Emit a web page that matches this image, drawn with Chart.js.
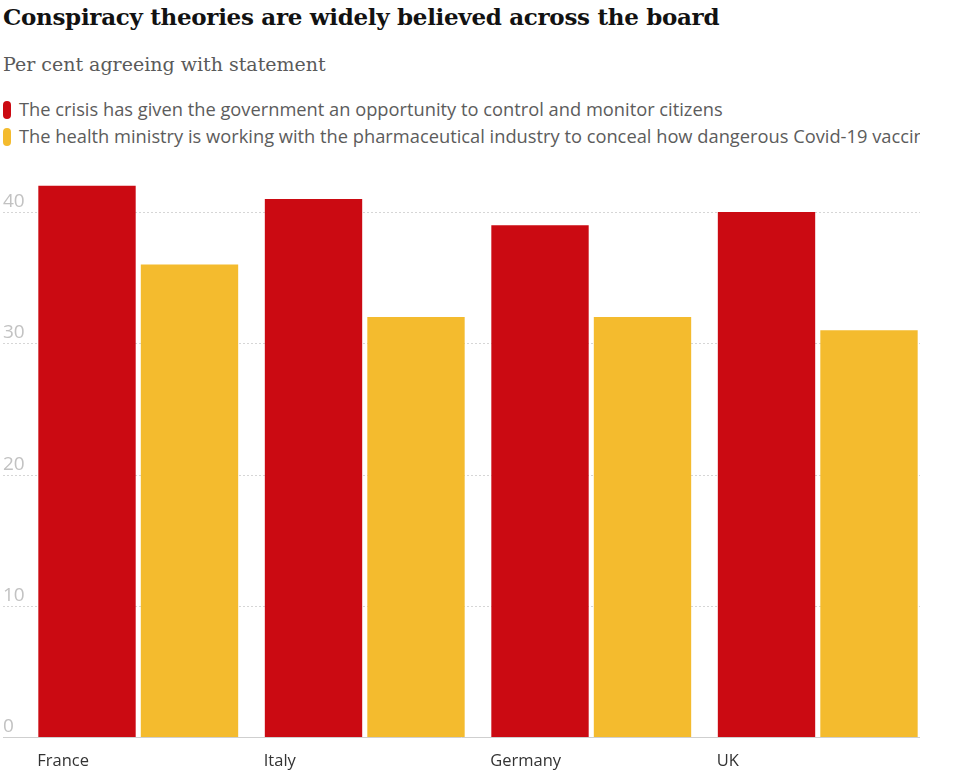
<!DOCTYPE html>
<html>
<head>
<meta charset="utf-8"/>
<script src="https://cdn.jsdelivr.net/npm/chart.js"></script>
<style>
  body { margin: 0; background: #fff; width: 960px; height: 784px; position: relative; overflow: hidden; }
  #title { position: absolute; left: 3px; top: 3px; font: bold 23px "DejaVu Serif", serif; color: #121212; white-space: nowrap; letter-spacing: -0.3px; }
  #subtitle { position: absolute; left: 3px; top: 53px; font: 19px "DejaVu Serif", serif; color: #5a5a5a; white-space: nowrap; }
  .leg { position: absolute; left: 3px; width: 917px; overflow: hidden; white-space: nowrap; font: 18.3px "Open Sans", sans-serif; color: #5c5c5c; }
  .leg i { display: inline-block; width: 8px; height: 18px; border-radius: 4px; vertical-align: -3px; margin-right: 8px; }
  #wrap { position: absolute; left: 0; top: 0; width: 960px; height: 784px; }
</style>
</head>
<body>
<div id="title">Conspiracy theories are widely believed across the board</div>
<div id="subtitle">Per cent agreeing with statement</div>
<div class="leg" id="leg0" style="top:96px"></div>
<div class="leg" id="leg1" style="top:123px"></div>
<div id="wrap"><canvas id="myChart" width="960" height="784"></canvas></div>

<script>
// data
const countries = ["France", "Italy", "Germany", "UK"];
const seriesNames = [
  "The crisis has given the government an opportunity to control and monitor citizens",
  "The health ministry is working with the pharmaceutical industry to conceal how dangerous Covid-19 vaccines are"
];
const controlValues = [42, 41, 39, 40];
const pharmaValues = [36, 32, 32, 31];
const yTicks = [0, 10, 20, 30, 40];
const colors = ["#cb0a12", "#f4bb2e"];

// legend in html
seriesNames.forEach((name, i) => {
  const el = document.getElementById("leg" + i);
  el.innerHTML = '<i style="background:' + colors[i] + '"></i>' + name;
});

// dotted gridlines + tick labels drawn from the y scale
const gridPlugin = {
  id: "gridLines",
  beforeDatasetsDraw(chart) {
    const ctx = chart.ctx;
    const y = chart.scales.y;
    ctx.save();
    yTicks.forEach(t => {
      const py = Math.round(y.getPixelForValue(t)) + 0.5;
      ctx.beginPath();
      if (t === 0) {
        ctx.setLineDash([]);
        ctx.strokeStyle = "#cfcfcf";
      } else {
        ctx.setLineDash([2, 2]);
        ctx.strokeStyle = "#d6d6d6";
      }
      ctx.lineWidth = 1;
      ctx.moveTo(3, py);
      ctx.lineTo(920, py);
      ctx.stroke();
      ctx.setLineDash([]);
      ctx.fillStyle = "#c2c2c2";
      ctx.font = '19px "Open Sans", sans-serif';
      ctx.textAlign = "left";
      ctx.textBaseline = "alphabetic";
      ctx.fillText(String(t), 3, py - 6);
    });
    ctx.restore();
  }
};

const ctx = document.getElementById("myChart").getContext("2d");
new Chart(ctx, {
  type: "bar",
  data: {
    labels: countries,
    datasets: [
      { label: seriesNames[0], data: controlValues, backgroundColor: colors[0], borderWidth: 0 },
      { label: seriesNames[1], data: pharmaValues, backgroundColor: colors[1], borderWidth: 0 }
    ]
  },
  options: {
    responsive: false,
    animation: false,
    layout: { padding: { left: 25, right: 29, top: 159.5, bottom: 0 } },
    plugins: { legend: { display: false }, tooltip: { enabled: false } },
    datasets: { bar: { categoryPercentage: 0.905, barPercentage: 0.95 } },
    scales: {
      y: { display: false, min: 0, max: 44 },
      x: {
        grid: { display: false, drawTicks: false },
        border: { display: false },
        ticks: {
          align: "start",
          labelOffset: -101,
          padding: 14,
          color: "#333",
          font: { family: "Open Sans", size: 16.5 },
          maxRotation: 0
        },
        afterFit(scale) { scale.height = 47; }
      }
    }
  },
  plugins: [gridPlugin]
});
</script>
</body>
</html>
